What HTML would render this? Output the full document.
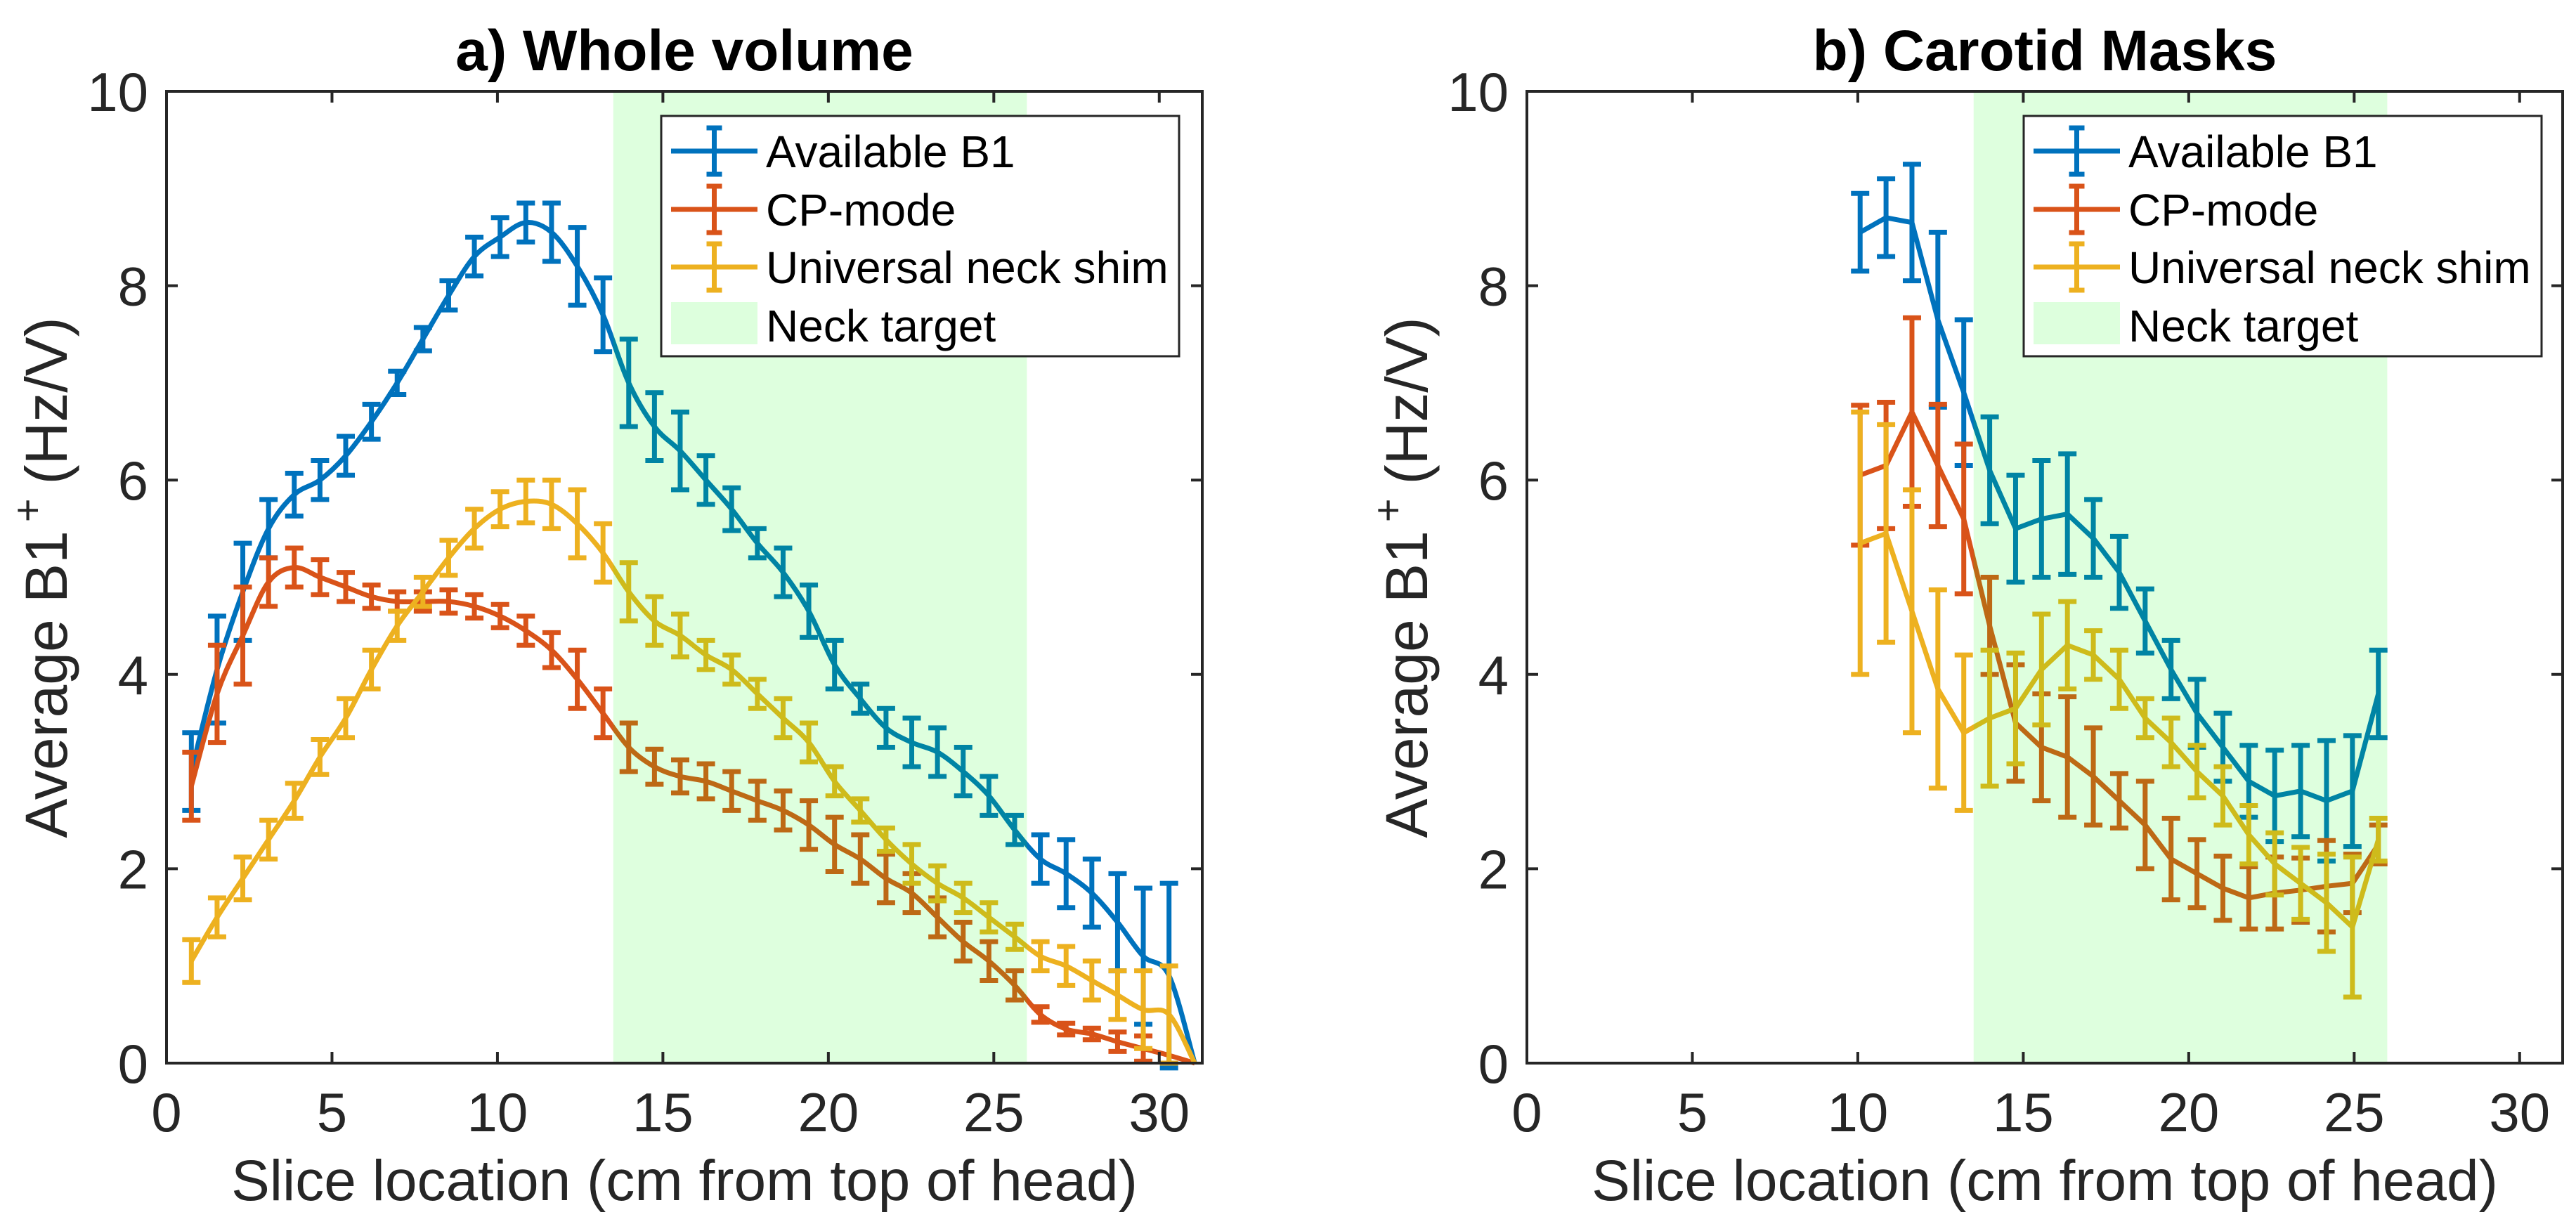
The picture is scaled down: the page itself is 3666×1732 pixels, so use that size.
<!DOCTYPE html>
<html><head><meta charset="utf-8">
<style>
html,body{margin:0;padding:0;background:#fff;}
svg{display:block;font-family:"Liberation Sans",Arial,sans-serif;}
</style></head>
<body>
<svg id="fig" width="3666" height="1732" viewBox="0 0 3666 1732" xmlns="http://www.w3.org/2000/svg"></svg>
<script>
const xTicks = [0,5,10,15,20,25,30];
const yTicks = [0,2,4,6,8,10];
const seriesNames = ["Available B1","CP-mode","Universal neck shim"];
const neckTarget = [13.5, 26];

// panel a
const aX0 = 0.75, aStep = 0.7775, aN = 40;
const aBlue = [3.0,4.05,4.85,5.5,5.85,6.0,6.25,6.6,7.0,7.45,7.9,8.3,8.5,8.65,8.55,8.2,7.7,7.0,6.55,6.3,6.0,5.7,5.35,5.05,4.65,4.1,3.75,3.45,3.3,3.2,3.0,2.75,2.4,2.1,1.95,1.75,1.45,1.1,0.9,0];
const aBlueErr = [0.4,0.55,0.5,0.3,0.22,0.2,0.2,0.18,0.12,0.12,0.15,0.2,0.2,0.2,0.3,0.4,0.38,0.45,0.35,0.4,0.25,0.22,0.15,0.25,0.27,0.25,0.15,0.2,0.25,0.25,0.25,0.2,0.15,0.25,0.35,0.35,0.5,0.7,0.95,0];
const aRed = [2.85,3.8,4.4,4.95,5.1,5.0,4.9,4.8,4.75,4.75,4.75,4.7,4.6,4.45,4.25,3.95,3.6,3.25,3.05,2.95,2.9,2.8,2.7,2.6,2.45,2.25,2.1,1.9,1.75,1.5,1.25,1.05,0.8,0.5,0.35,0.3,0.22,0.15,0.08,0];
const aRedErr = [0.35,0.5,0.5,0.25,0.2,0.18,0.15,0.12,0.1,0.1,0.12,0.12,0.12,0.15,0.18,0.3,0.25,0.25,0.18,0.17,0.18,0.2,0.2,0.2,0.25,0.28,0.25,0.25,0.2,0.2,0.2,0.2,0.15,0.08,0.06,0.06,0.1,0.13,0,0];
const aYel = [1.05,1.5,1.9,2.3,2.7,3.15,3.55,4.05,4.5,4.85,5.2,5.5,5.7,5.78,5.75,5.55,5.25,4.85,4.55,4.4,4.2,4.05,3.8,3.55,3.3,2.9,2.6,2.3,2.05,1.85,1.7,1.5,1.3,1.1,1.0,0.85,0.7,0.55,0.5,0];
const aYelErr = [0.22,0.2,0.22,0.2,0.18,0.18,0.2,0.2,0.15,0.15,0.18,0.2,0.18,0.22,0.25,0.35,0.3,0.3,0.25,0.22,0.15,0.15,0.15,0.2,0.2,0.15,0.12,0.12,0.2,0.18,0.15,0.15,0.13,0.15,0.2,0.2,0.25,0.4,0.5,0];

// panel b
const bX0 = 10.07, bStep = 0.783, bN = 21;
const bBlue = [8.55,8.7,8.65,7.65,6.9,6.1,5.5,5.6,5.65,5.4,5.05,4.55,4.05,3.6,3.25,2.9,2.75,2.8,2.7,2.8,3.8];
const bBlueErr = [0.4,0.4,0.6,0.9,0.75,0.55,0.55,0.6,0.62,0.4,0.37,0.33,0.3,0.35,0.35,0.37,0.47,0.47,0.62,0.57,0.45];
const bRed = [6.05,6.15,6.7,6.15,5.6,4.5,3.5,3.25,3.15,2.95,2.7,2.45,2.1,1.95,1.8,1.7,1.75,1.78,1.82,1.85,2.25];
const bRedErr = [0.72,0.65,0.97,0.63,0.77,0.5,0.6,0.55,0.62,0.5,0.28,0.45,0.42,0.35,0.33,0.32,0.37,0.33,0.47,0.3,0.2];
const bYel = [5.35,5.45,4.65,3.85,3.4,3.55,3.65,4.05,4.3,4.2,3.95,3.55,3.3,3.0,2.75,2.35,2.05,1.85,1.65,1.4,2.3];
const bYelErr = [1.35,1.12,1.25,1.02,0.8,0.7,0.57,0.57,0.45,0.25,0.3,0.2,0.25,0.27,0.3,0.3,0.32,0.37,0.5,0.72,0.22];

const NS = "http://www.w3.org/2000/svg";
const svg = document.getElementById('fig');
const colors = ["#0072BD","#D95319","#EDB120"];
function mk(tag, attrs, parent){const e=document.createElementNS(NS,tag);for(const k in attrs)e.setAttribute(k,attrs[k]);(parent||svg).appendChild(e);return e;}

function panel(cfg){
  const L=cfg.left,R=cfg.right,T=130,B=1513,XMAX=31.3,YMAX=10;
  const sx=v=>L+v*(R-L)/XMAX, sy=v=>B-v*(B-T)/YMAX;
  const g=mk('g',{});
  
  
  const sets=[[cfg.blue,cfg.blueErr],[cfg.red,cfg.redErr],[cfg.yel,cfg.yelErr]];
  sets.forEach((s,si)=>{
    const vals=s[0],errs=s[1];
    const pts=vals.map((v,i)=>[sx(cfg.x0+i*cfg.step),sy(v)]);
    let d='M'+pts[0][0]+','+pts[0][1];
    if(cfg.smooth){
      for(let i=0;i<pts.length-1;i++){
        const p0=pts[Math.max(0,i-1)],p1=pts[i],p2=pts[i+1],p3=pts[Math.min(pts.length-1,i+2)];
        const c1=[p1[0]+(p2[0]-p0[0])/6,p1[1]+(p2[1]-p0[1])/6];
        const c2=[p2[0]-(p3[0]-p1[0])/6,p2[1]-(p3[1]-p1[1])/6];
        d+=' C'+c1[0]+','+c1[1]+' '+c2[0]+','+c2[1]+' '+p2[0]+','+p2[1];
      }
    } else { for(let i=1;i<pts.length;i++) d+=' L'+pts[i][0]+','+pts[i][1]; }
    const sg=mk('g',{},g);
    
    
    const line=mk('path',{d:d,fill:'none',stroke:colors[si],'stroke-width':7,'stroke-linejoin':'round'},sg);
    
    
    vals.forEach((v,i)=>{
      if(errs[i]<=0) return;
      const x=sx(cfg.x0+i*cfg.step),y1=sy(v-errs[i]),y2=sy(v+errs[i]);
      const eb=mk('path',{d:`M${x},${y1}L${x},${y2}M${x-13},${y1}L${x+13},${y1}M${x-13},${y2}L${x+13},${y2}`,stroke:colors[si],'stroke-width':7,fill:'none'},sg);
      
      
    });
  });
  const sh=mk('rect',{x:sx(neckTarget[0]),y:T,width:sx(neckTarget[1])-sx(neckTarget[0]),height:B-T,fill:'rgb(0,255,0)','fill-opacity':0.13},g);
  
  
  const box=mk('rect',{x:L,y:T,width:R-L,height:B-T,fill:'none',stroke:'#262626','stroke-width':4},g);
  
  
  xTicks.forEach(t=>{
    const x=sx(t);
    mk('path',{d:`M${x},${B}L${x},${B-16}M${x},${T}L${x},${T+16}`,stroke:'#262626','stroke-width':4},g);
    const tx=mk('text',{x:x,y:1610,'font-size':78,fill:'#262626','text-anchor':'middle'},g);
    tx.textContent=t;
    
    
  });
  yTicks.forEach(t=>{
    const y=sy(t);
    mk('path',{d:`M${L},${y}L${L+16},${y}M${R},${y}L${R-16},${y}`,stroke:'#262626','stroke-width':4},g);
    const ty=mk('text',{x:L-26,y:y+28,'font-size':78,fill:'#262626','text-anchor':'end'},g);
    ty.textContent=t;
    
    
  });
  const xl=mk('text',{x:(L+R)/2,y:1708,'font-size':82,fill:'#262626','text-anchor':'middle'},g);
  xl.textContent='Slice location (cm from top of head)';
  
  
  const yl=mk('text',{x:0,y:0,'font-size':84,fill:'#262626','text-anchor':'middle',transform:`translate(${cfg.ylx},822) rotate(-90)`},g);
  yl.innerHTML='Average B1<tspan dx="12" dy="-36" font-size="58">+</tspan><tspan dx="20" dy="36">(Hz/V)</tspan>';
  
  
  const ti=mk('text',{x:(L+R)/2,y:100,'font-size':82,'font-weight':'bold',fill:'#000','text-anchor':'middle'},g);
  ti.textContent=cfg.title;
  
  
  const lx=cfg.legX, lw=cfg.legW;
  const lg=mk('g',{},g);
  
  
  mk('rect',{x:lx,y:165,width:lw,height:342,fill:'#fff',stroke:'#262626','stroke-width':3},lg);
  const rows=[215,298,380,463];
  seriesNames.forEach((n,i)=>{
    const y=rows[i], x1=lx+14, x2=lx+137, xc=(x1+x2)/2;
    const e=mk('g',{},lg);
    
    
    mk('path',{d:`M${x1},${y}L${x2},${y}M${xc},${y-33}L${xc},${y+33}M${xc-11},${y-33}L${xc+11},${y-33}M${xc-11},${y+33}L${xc+11},${y+33}`,stroke:colors[i],'stroke-width':7,fill:'none'},e);
    const t=mk('text',{x:lx+149,y:y+23,'font-size':64,fill:'#000'},e);
    t.textContent=n;
  });
  const e4=mk('g',{},lg);
  
  
  mk('rect',{x:lx+14,y:430,width:123,height:60,fill:'#ddffdd'},e4);
  const t4=mk('text',{x:lx+149,y:rows[3]+23,'font-size':64,fill:'#000'},e4);
  t4.textContent='Neck target';
}

panel({id:'panel-a',left:237,right:1711,title:'a) Whole volume',x0:aX0,step:aStep,blue:aBlue,blueErr:aBlueErr,red:aRed,redErr:aRedErr,yel:aYel,yelErr:aYelErr,smooth:true,legX:941,legW:737,ylx:95});
panel({id:'panel-b',left:2173,right:3647,title:'b) Carotid Masks',x0:bX0,step:bStep,blue:bBlue,blueErr:bBlueErr,red:bRed,redErr:bRedErr,yel:bYel,yelErr:bYelErr,smooth:false,legX:2880,legW:737,ylx:2031});
</script>
</body></html>
